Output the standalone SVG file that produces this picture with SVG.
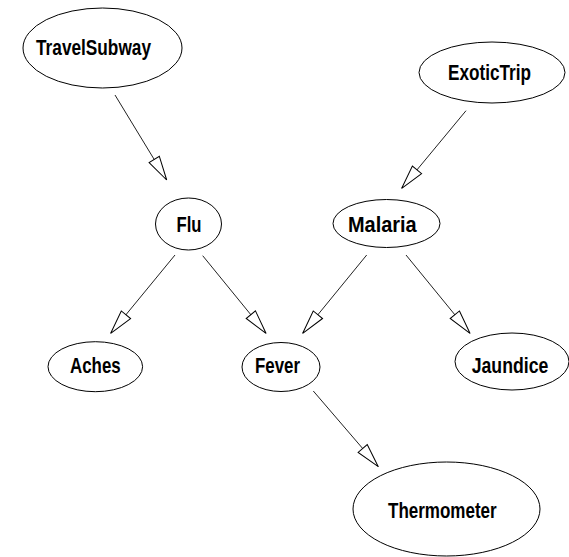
<svg xmlns="http://www.w3.org/2000/svg" width="569" height="557" viewBox="0 0 569 557">
<style>
.n ellipse{fill:#fff;stroke:#000;stroke-width:1}
.n text{font-family:"Liberation Sans Narrow","Liberation Sans",Arial,sans-serif;font-weight:bold;font-size:22px;fill:#000}
.e line{stroke:#222;stroke-width:1;marker-end:url(#ah)}
</style>
<defs>
<marker id="ah" markerUnits="userSpaceOnUse" markerWidth="26" markerHeight="14" refX="24" refY="6" orient="auto" overflow="visible">
<path d="M0,0 L24,6 L0,12 Z" fill="#fff" stroke="#000" stroke-width="1"/>
</marker>
</defs>
<rect width="569" height="557" fill="#fff"/>
<g id="edges" class="e">
<line x1="115" y1="95" x2="166.7" y2="180"/>
<line x1="466" y1="110.7" x2="401.7" y2="188.3"/>
<line x1="175" y1="255" x2="110.7" y2="333.3"/>
<line x1="202.7" y1="255.7" x2="266" y2="333.3"/>
<line x1="366.7" y1="255" x2="302.7" y2="333.3"/>
<line x1="406" y1="255" x2="470" y2="333.3"/>
<line x1="313.3" y1="391" x2="378.3" y2="466.7"/>
</g>
<g id="TravelSubway" class="n"><ellipse cx="102.5" cy="48" rx="79.5" ry="40"/><text x="36" y="55" textLength="115" lengthAdjust="spacingAndGlyphs">TravelSubway</text></g>
<g id="ExoticTrip" class="n"><ellipse cx="492" cy="72.5" rx="73" ry="30.5"/><text x="448" y="79.5" textLength="83" lengthAdjust="spacingAndGlyphs">ExoticTrip</text></g>
<g id="Flu" class="n"><ellipse cx="188.5" cy="224" rx="33" ry="26"/><text x="176.5" y="231.5" textLength="25" lengthAdjust="spacingAndGlyphs">Flu</text></g>
<g id="Malaria" class="n"><ellipse cx="386.5" cy="223.5" rx="53.5" ry="24"/><text x="348" y="231.5" textLength="68.7" lengthAdjust="spacingAndGlyphs">Malaria</text></g>
<g id="Aches" class="n"><ellipse cx="95.3" cy="366.7" rx="47.3" ry="25"/><text x="70" y="373" textLength="50.7" lengthAdjust="spacingAndGlyphs">Aches</text></g>
<g id="Fever" class="n"><ellipse cx="281" cy="367" rx="39" ry="24.5"/><text x="255" y="373" textLength="45" lengthAdjust="spacingAndGlyphs">Fever</text></g>
<g id="Jaundice" class="n"><ellipse cx="512" cy="361.5" rx="57" ry="28.5"/><text x="471.7" y="373.3" textLength="76.6" lengthAdjust="spacingAndGlyphs">Jaundice</text></g>
<g id="Thermometer" class="n"><ellipse cx="446.5" cy="509" rx="93.5" ry="47"/><text x="388" y="518.3" textLength="108.7" lengthAdjust="spacingAndGlyphs">Thermometer</text></g>
</svg>
